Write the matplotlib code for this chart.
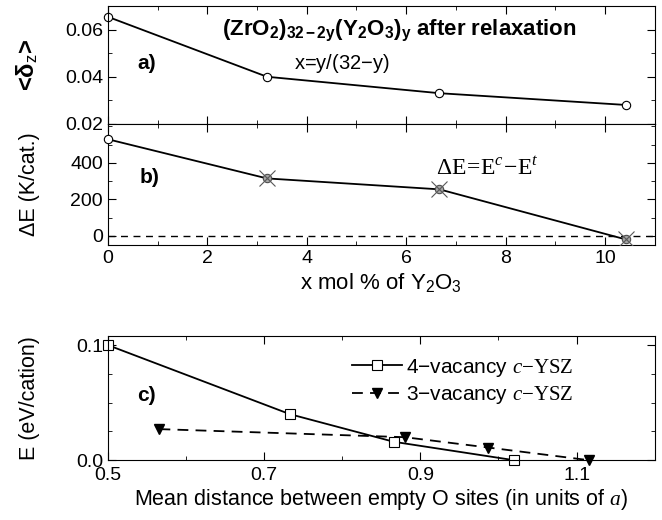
import matplotlib
matplotlib.use('Agg')
import matplotlib.pyplot as plt
from matplotlib.ticker import MultipleLocator, FixedLocator

# fonts: sans for most text, serif pieces go through mathtext sf/it
plt.rcParams['font.family'] = ['Liberation Sans', 'DejaVu Sans']
plt.rcParams['mathtext.fontset'] = 'custom'
plt.rcParams['mathtext.rm'] = 'Liberation Sans'
plt.rcParams['mathtext.bf'] = 'Liberation Sans:bold'
plt.rcParams['mathtext.it'] = 'Liberation Serif:italic'
plt.rcParams['mathtext.sf'] = 'Liberation Serif'
plt.rcParams['mathtext.default'] = 'rm'

# panel a/b data: x mol % of Y2O3
x_mol = [0.0, 3.2, 6.67, 10.42]
delta_z = [0.0655, 0.040, 0.033, 0.028]
delta_e = [530, 315, 255, -20]

# panel c data
dist_4vac = [0.5, 0.733, 0.866, 1.02]
e_4vac = [0.100, 0.040, 0.016, 0.000]
dist_3vac = [0.566, 0.880, 0.987, 1.116]
e_3vac = [0.027, 0.020, 0.011, 0.000]

tick_fs = 14
label_fs = 15.5

fig = plt.figure(figsize=(6.62, 5.2), dpi=100)
left, width = 0.163, 0.826
ax_a = fig.add_axes([left, 0.762, width, 0.226])
ax_b = fig.add_axes([left, 0.529, width, 0.233])
ax_c = fig.add_axes([left, 0.115, width, 0.239])

for ax in (ax_a, ax_b, ax_c):
    ax.tick_params(which='both', direction='in', top=True, right=True, labelsize=tick_fs)
    ax.tick_params(which='major', length=6)
    ax.tick_params(which='minor', length=3)

# panel a
ax_a.plot(x_mol, delta_z, color='black', lw=1.3, marker='o', ms=6, mfc='white', mec='black', mew=0.8, clip_on=False)
ax_a.set_xlim(0, 11)
ax_a.set_ylim(0.02, 0.07)
ax_a.xaxis.set_major_locator(MultipleLocator(2))
ax_a.xaxis.set_minor_locator(MultipleLocator(1))
ax_a.yaxis.set_major_locator(FixedLocator([0.02, 0.04, 0.06]))
ax_a.yaxis.set_minor_locator(MultipleLocator(0.01))
ax_a.set_yticklabels(['0.02', '0.04', '0.06'])
ax_a.set_xticklabels([])
ax_a.set_ylabel(r'<δ$_z$>', fontsize=17, fontweight='bold')
ax_a.text(0.6, 0.0457, 'a)', fontsize=15, fontweight='bold', va='center')
ax_a.text(2.3, 0.0595,
          r'(ZrO$_\mathbf{2}$)$_\mathbf{32-2y}$(Y$_\mathbf{2}$O$_\mathbf{3}$)$_\mathbf{y}$ after relaxation',
          fontsize=16, fontweight='bold', va='center')
ax_a.text(3.75, 0.0457, r'x=y/(32$-$y)', fontsize=14.5, va='center')

# panel b
ax_b.axhline(0, color='black', lw=1, ls=(0, (5, 4)))
ax_b.plot(x_mol, delta_e, color='black', lw=1.3, zorder=2)
ax_b.plot(x_mol[:1], delta_e[:1], ls='none', marker='o', ms=6, mfc='white', mec='black', mew=0.8, clip_on=False, zorder=3)
ax_b.plot(x_mol[1:], delta_e[1:], ls='none', marker='o', ms=6, mfc='0.65', mec='0.3', mew=0.8, zorder=3)
ax_b.plot(x_mol[1:], delta_e[1:], ls='none', marker='x', ms=11, mec='0.35', mew=0.8, zorder=4)
ax_b.set_xlim(0, 11)
ax_b.set_ylim(-50, 615)
ax_b.xaxis.set_major_locator(MultipleLocator(2))
ax_b.xaxis.set_minor_locator(MultipleLocator(1))
ax_b.yaxis.set_major_locator(FixedLocator([0, 200, 400]))
ax_b.yaxis.set_minor_locator(MultipleLocator(100))
ax_b.set_ylabel('ΔE (K/cat.)', fontsize=label_fs)
ax_b.set_xlabel(r'x mol % of Y$_2$O$_3$', fontsize=16, labelpad=3)
ax_b.text(0.64, 320, 'b)', fontsize=15, fontweight='bold', va='center')
ax_b.text(6.6, 368, r'$\mathsf{\Delta E\!=\!E}^{\mathit{c}}\mathsf{\!-\!E}^{\mathit{t}}$', fontsize=17, va='center')

# panel c
ax_c.plot(dist_4vac, e_4vac, color='black', lw=1.3, marker='s', ms=7, mfc='white', mec='black', mew=0.8,
          clip_on=False, label=r'4$-$vacancy $\mathit{c}\mathsf{-YSZ}$')
ax_c.plot(dist_3vac, e_3vac, color='black', lw=1.3, ls=(0, (6, 4)), marker='v', ms=7, mfc='black', mec='black',
          clip_on=False, label=r'3$-$vacancy $\mathit{c}\mathsf{-YSZ}$')
ax_c.set_xlim(0.5, 1.2)
ax_c.set_ylim(0.0, 0.108)
ax_c.xaxis.set_major_locator(FixedLocator([0.5, 0.7, 0.9, 1.1]))
ax_c.xaxis.set_minor_locator(MultipleLocator(0.1))
ax_c.yaxis.set_major_locator(FixedLocator([0.0, 0.1]))
ax_c.yaxis.set_minor_locator(MultipleLocator(0.025))
ax_c.set_yticklabels(['0.0', '0.1'])
ax_c.set_xticklabels(['0.5', '0.7', '0.9', '1.1'])
ax_c.tick_params(axis='x', which='major', pad=5)
ax_c.set_ylabel('E (eV/cation)', fontsize=label_fs)
ax_c.set_xlabel(r'Mean distance between empty O sites (in units of $\mathit{a)}$', fontsize=label_fs, labelpad=2)
ax_c.text(0.538, 0.0565, 'c)', fontsize=15, fontweight='bold', va='center')
ax_c.legend(loc='upper left', bbox_to_anchor=(0.42, 0.95), frameon=False, fontsize=15,
            handlelength=2.4, handletextpad=0.2, labelspacing=0.25, borderpad=0.2)

# line up the y labels
for ax in (ax_a, ax_b, ax_c):
    ax.yaxis.set_label_coords(-0.125, 0.5)

fig.savefig('out.png', dpi=100)
